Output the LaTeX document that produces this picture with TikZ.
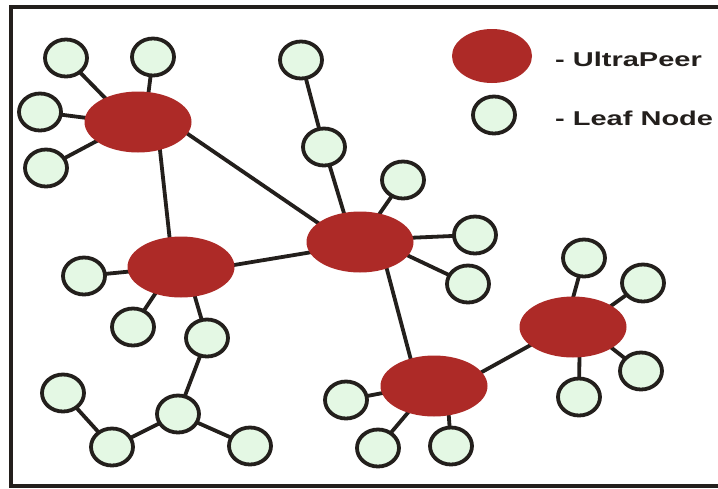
\documentclass[tikz,border=0pt]{standalone}
\usepackage{fontspec}
\setmainfont{Liberation Sans}
\usetikzlibrary{shapes.geometric,backgrounds,calc}
\definecolor{peerred}{HTML}{AD2A27}
\definecolor{leafgreen}{HTML}{E4F8E4}
\definecolor{ink}{HTML}{231F1C}

\begin{document}
\begin{tikzpicture}[x=1pt,y=-1pt,
  ultra/.style={ellipse, fill=peerred, minimum width=107pt, minimum height=61pt, inner sep=0pt},
  leaf/.style={ellipse, draw=ink, line width=3.8pt, fill=leafgreen, minimum width=42pt, minimum height=37pt, inner sep=0pt},
  link/.style={draw=ink, line width=3.8pt},
  legendtext/.style={anchor=west, inner sep=0pt, text=ink,
    font=\fontsize{20}{20}\selectfont\bfseries}]
\useasboundingbox (0,0) rectangle (718,488);

% outer frame (open on the right)
\draw[ink, line width=3.5pt] (718,7) -- (11,7) -- (11,486) -- (718,486);

% ultrapeers
\node[ultra] (u1) at (138,122) {};
\node[ultra] (u2) at (181,267) {};
\node[ultra] (u3) at (360,242) {};
\node[ultra] (u4) at (573,327) {};
\node[ultra] (u5) at (434,386) {};

% leaf nodes
\node[leaf] (l1) at (66,58) {};
\node[leaf] (l2) at (153,57) {};
\node[leaf] (l3) at (40,112) {};
\node[leaf] (l4) at (46,168) {};
\node[leaf] (l5) at (301,60) {};
\node[leaf] (l6) at (324,147) {};
\node[leaf] (l7) at (403,180) {};
\node[leaf] (l8) at (475,235) {};
\node[leaf] (l9) at (468,284) {};
\node[leaf] (l10) at (84,276) {};
\node[leaf] (l11) at (133,327) {};
\node[leaf] (l12) at (207,338) {};
\node[leaf] (l13) at (63,393) {};
\node[leaf] (l14) at (178,414) {};
\node[leaf] (l15) at (112,447) {};
\node[leaf] (l16) at (250,446) {};
\node[leaf] (l17) at (584,258) {};
\node[leaf] (l18) at (643,283) {};
\node[leaf] (l19) at (641,371) {};
\node[leaf] (l20) at (579,397) {};
\node[leaf] (l21) at (346,400) {};
\node[leaf] (l22) at (378,448) {};
\node[leaf] (l23) at (451,446) {};

% connections, kept behind the nodes; ultrapeer ends sit just inside the ellipse
\begin{scope}[on background layer]
  \fill[white] (0,0) rectangle (718,488);
  % ultrapeer to ultrapeer
  \draw[link] ($(u1)+(21.7,25.5)$) -- ($(u2)+(-11,-25.5)$);
  \draw[link] ($(u1)+(44,8)$) -- ($(u3)+(-37.5,-16)$);
  \draw[link] ($(u3)+(-44,9.4)$) -- ($(u2)+(47,-1)$);
  \draw[link] ($(u3)+(25.5,22)$) -- ($(u5)+(-22.5,-24)$);
  \draw[link] ($(u5)+(42.5,-11)$) -- ($(u4)+(-37.4,15.3)$);
  % ultrapeer to leaf
  \draw[link] ($(u1)+(-29,-20)$) -- (l1.center);
  \draw[link] ($(u1)+(10,-25.5)$) -- (l2.center);
  \draw[link] ($(u1)+(-46,-3.4)$) -- (l3.center);
  \draw[link] ($(u1)+(-37.5,17)$) -- (l4.center);
  \draw[link] ($(u3)+(-15,-25.5)$) -- (l6.center);
  \draw[link] ($(u3)+(17,-24.6)$) -- (l7.center);
  \draw[link] ($(u3)+(46,-4)$) -- (l8.center);
  \draw[link] ($(u3)+(42.5,11)$) -- (l9.center);
  \draw[link] ($(u2)+(-46,4)$) -- (l10.center);
  \draw[link] ($(u2)+(-24,24)$) -- (l11.center);
  \draw[link] ($(u2)+(12.7,25.5)$) -- (l12.center);
  \draw[link] ($(u5)+(-46,6)$) -- (l21.center);
  \draw[link] ($(u5)+(-23,23)$) -- (l22.center);
  \draw[link] ($(u5)+(14.5,26)$) -- (l23.center);
  \draw[link] ($(u4)+(-1,-25.5)$) -- (l17.center);
  \draw[link] ($(u4)+(33.7,-18)$) -- (l18.center);
  \draw[link] ($(u4)+(33.7,17)$) -- (l19.center);
  \draw[link] ($(u4)+(6.5,26)$) -- (l20.center);
  % leaf to leaf
  \foreach \a/\b in {l6/l5,l12/l14,l13/l15,l15/l14,l14/l16}
    \draw[link] (\a.center) -- (\b.center);
\end{scope}

% legend
\node[ultra, minimum width=80pt, minimum height=54pt] (keyultra) at (492,56) {};
\node[leaf] (keyleaf) at (494,115) {};
\node[legendtext] (keyultratext) at (555,59.5) {\scalebox{1.45}[1]{- UltraPeer}};
\node[legendtext] (keyleaftext) at (555,118.7) {\scalebox{1.45}[1]{- Leaf Node}};
\end{tikzpicture}
\end{document}
